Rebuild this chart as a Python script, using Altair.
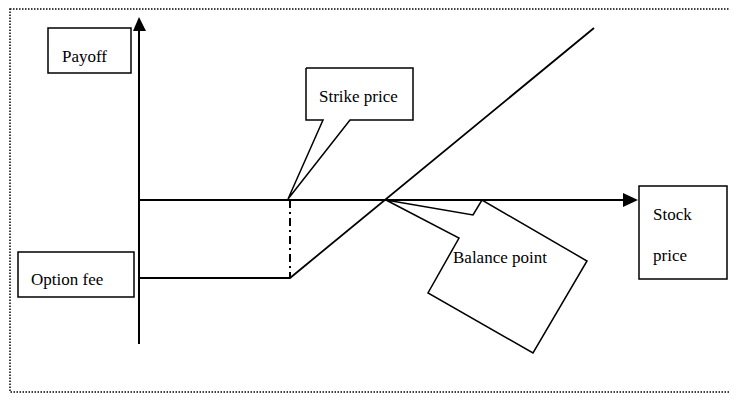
import altair as alt
import pandas as pd

# ---- diagram data (coordinates in diagram units) ----
frame_x = [10, 760]
frame_y = [9, 392]

yaxis_x = [139, 139]
yaxis_y = [31, 344]
yarrow_y = [31, 17]
yarrow_xl = [133, 139]
yarrow_xr = [146, 139]

xaxis_x = [139, 623]
xaxis_y = [200, 200]
xarrow_x = [623, 638]
xarrow_yt = [193, 200]
xarrow_yb = [207, 200]

payoff_x = [139, 290, 594]
payoff_y = [278, 278, 28]

strike_x = [290, 290]
strike_y = [200, 278]

box_names = ["Payoff", "Option fee", "Stock price"]
box_x1 = [48, 18, 639]
box_x2 = [131, 134, 727]
box_y1 = [28, 252, 186]
box_y2 = [73, 297, 279]

strike_call_x = [306, 413, 413, 350, 288, 323, 306, 306]
strike_call_y = [68, 68, 120, 120, 199, 120, 120, 68]

bal_call_x = [386, 473, 482, 587, 533, 428, 459, 386]
bal_call_y = [200, 215, 200, 261, 353, 293, 238, 200]

labels = ["Payoff", "Option fee", "Strike price", "Stock", "price", "Balance point"]
label_x = [62, 31, 319, 653, 653, 453]
label_y = [62, 285, 102, 220, 261, 263]

# ---- scales ----
W, H = 721, 385
xs = alt.Scale(domain=[8, 8 + W], nice=False, zero=False)
ys = alt.Scale(domain=[8, 8 + H], nice=False, zero=False, reverse=True)
X = lambda f: alt.X(f, type="quantitative", scale=xs, axis=None)
Y = lambda f: alt.Y(f, type="quantitative", scale=ys, axis=None)

frame = alt.Chart(pd.DataFrame({"x": [frame_x[0]], "x2": [frame_x[1]], "y": [frame_y[0]], "y2": [frame_y[1]]})).mark_rect(
    fill=None, stroke="black", strokeWidth=1.5, strokeDash=[1.5, 1.5]
).encode(x=X("x"), x2="x2", y=Y("y"), y2="y2")

def seg(xv, yv, **kw):
    df = pd.DataFrame({"x": xv, "y": yv, "i": list(range(len(xv)))})
    return alt.Chart(df).mark_line(color="black", **kw).encode(x=X("x"), y=Y("y"), order="i:Q")

yaxis = seg(yaxis_x, yaxis_y, strokeWidth=2)
xaxis = seg(xaxis_x, xaxis_y, strokeWidth=2)
payoff = seg(payoff_x, payoff_y, strokeWidth=1.8)
strike = seg(strike_x, strike_y, strokeWidth=2, strokeDash=[8, 4, 2, 4])
strike_call = seg(strike_call_x, strike_call_y, strokeWidth=1.5, strokeJoin="miter")
bal_call = seg(bal_call_x, bal_call_y, strokeWidth=1.5, strokeJoin="miter")

yarrow = alt.Chart(pd.DataFrame({"y": yarrow_y, "x": yarrow_xl, "x2": yarrow_xr})).mark_area(
    color="black", orient="horizontal"
).encode(y=Y("y"), x=X("x"), x2="x2")

xarrow = alt.Chart(pd.DataFrame({"x": xarrow_x, "y": xarrow_yt, "y2": xarrow_yb})).mark_area(
    color="black", orient="vertical"
).encode(x=X("x"), y=Y("y"), y2="y2")

boxes = alt.Chart(pd.DataFrame({"n": box_names, "x": box_x1, "x2": box_x2, "y": box_y1, "y2": box_y2})).mark_rect(
    fill="white", stroke="black", strokeWidth=1.5
).encode(x=X("x"), x2="x2", y=Y("y"), y2="y2")

texts = alt.Chart(pd.DataFrame({"t": labels, "x": label_x, "y": label_y})).mark_text(
    align="left", baseline="alphabetic", font="Liberation Serif", fontSize=17, color="black"
).encode(x=X("x"), y=Y("y"), text="t:N")

chart = alt.layer(
    frame, yaxis, xaxis, payoff, strike, yarrow, xarrow, boxes, strike_call, bal_call, texts
).properties(
    width=W, height=H, padding=0, autosize=alt.AutoSizeParams(type="none")
).configure_view(stroke=None)

chart.save("out.html", embed_options={"renderer": "svg", "actions": False})
